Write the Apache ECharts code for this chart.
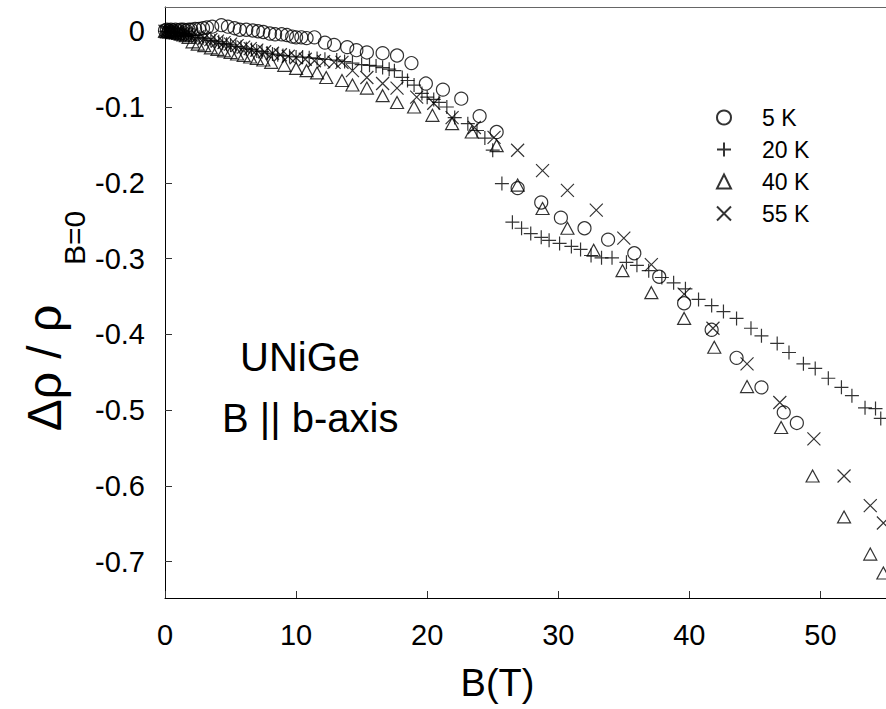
<!DOCTYPE html>
<html><head><meta charset="utf-8">
<script src="https://cdn.jsdelivr.net/npm/echarts@6/dist/echarts.min.js"></script>
<style>html,body{margin:0;padding:0;background:#fff}#c{width:886px;height:709px}</style>
</head><body><div id="c"></div>
<script>
const seriesNames = ['5 K', '20 K', '40 K', '55 K'];
const xTicks = [0, 10, 20, 30, 40, 50];
const yTicks = [0, -0.1, -0.2, -0.3, -0.4, -0.5, -0.6, -0.7];
const xTitle = 'B(T)';
const yTitleMain = 'Δρ / ρ';
const yTitleSub = 'B=0';
const noteLines = ['UNiGe', 'B || b-axis'];

const data5K = [[0,0.001],[0.15,0.002],[0.3,0.001],[0.45,0.002],[0.6,0.001],[0.8,0.002],[1.0,0.001],[1.2,0.002],[1.4,0.002],[1.6,0.001],[1.8,0.002],[2.0,0.002],[2.3,0.003],[2.6,0.003],[2.9,0.004],[3.2,0.005],[3.6,0.006],[4.3,0.008],[4.8,0.006],[5.3,0.004],[5.7,0.002],[6.2,0.002],[6.7,0.001],[7.1,0],[7.5,-0.001],[8.0,-0.003],[8.4,-0.004],[8.9,-0.004],[9.3,-0.005],[9.7,-0.007],[10.0,-0.008],[10.4,-0.008],[10.8,-0.009],[11.4,-0.008],[12.2,-0.015],[12.9,-0.018],[13.9,-0.021],[14.6,-0.025],[15.4,-0.028],[16.6,-0.029],[17.7,-0.032],[18.8,-0.042],[19.9,-0.069],[21.2,-0.077],[22.6,-0.089],[24.0,-0.112],[25.3,-0.133],[26.9,-0.207],[28.7,-0.226],[30.2,-0.246],[32.0,-0.260],[33.8,-0.275],[35.8,-0.293],[37.7,-0.324],[39.6,-0.359],[41.7,-0.394],[43.6,-0.431],[45.5,-0.470],[47.2,-0.503],[48.2,-0.517]];

const data20K = [[0,0],[0.15,-0.001],[0.3,0],[0.45,-0.001],[0.6,-0.001],[0.8,-0.002],[1.0,-0.002],[1.2,-0.003],[1.4,-0.003],[1.6,-0.004],[1.8,-0.005],[2.0,-0.005],[2.3,-0.006],[2.6,-0.008],[2.9,-0.009],[3.2,-0.010],[3.5,-0.012],[3.8,-0.013],[4.1,-0.014],[4.4,-0.016],[4.7,-0.017],[5.0,-0.018],[5.4,-0.020],[5.8,-0.021],[6.2,-0.023],[6.6,-0.024],[7.0,-0.026],[7.4,-0.027],[7.8,-0.029],[8.2,-0.030],[8.6,-0.031],[9.0,-0.032],[9.5,-0.033],[10.0,-0.034],[10.5,-0.034],[11.0,-0.035],[11.6,-0.036],[12.2,-0.037],[13.1,-0.038],[13.7,-0.040],[14.3,-0.042],[15.0,-0.044],[15.6,-0.045],[16.1,-0.046],[16.6,-0.048],[17.1,-0.050],[17.5,-0.052],[18.1,-0.061],[18.5,-0.065],[19.0,-0.071],[19.6,-0.082],[20.0,-0.087],[20.5,-0.090],[20.9,-0.094],[21.5,-0.100],[22.1,-0.114],[23.1,-0.122],[23.8,-0.131],[24.4,-0.141],[25.0,-0.157],[25.7,-0.201],[26.5,-0.252],[27.2,-0.260],[27.9,-0.267],[28.7,-0.272],[29.3,-0.276],[30.1,-0.280],[31.0,-0.284],[31.7,-0.288],[32.5,-0.296],[33.3,-0.299],[34.1,-0.299],[35.2,-0.305],[36.0,-0.309],[36.9,-0.316],[37.9,-0.325],[38.8,-0.332],[39.7,-0.340],[40.7,-0.354],[41.7,-0.362],[42.6,-0.370],[43.6,-0.379],[44.7,-0.392],[45.5,-0.402],[46.7,-0.412],[47.6,-0.424],[48.7,-0.439],[49.6,-0.445],[50.6,-0.458],[51.6,-0.470],[52.4,-0.481],[53.4,-0.497],[54.2,-0.498],[54.6,-0.511]];

const data40K = [[0,0],[0.15,-0.001],[0.3,0],[0.45,-0.001],[0.6,-0.002],[0.8,-0.002],[1.0,-0.003],[1.2,-0.004],[1.4,-0.005],[1.6,-0.006],[1.8,-0.008],[2.1,-0.014],[2.5,-0.017],[3.0,-0.019],[3.5,-0.022],[4.0,-0.024],[4.5,-0.026],[5.0,-0.028],[5.5,-0.030],[6.0,-0.032],[6.5,-0.034],[7.0,-0.036],[7.5,-0.038],[8.1,-0.041],[9.1,-0.045],[10.0,-0.049],[10.8,-0.052],[11.6,-0.055],[12.3,-0.061],[13.5,-0.065],[14.3,-0.071],[15.4,-0.075],[16.6,-0.085],[17.7,-0.094],[19.0,-0.100],[20.4,-0.111],[21.9,-0.122],[23.4,-0.133],[25.3,-0.151],[26.9,-0.203],[28.8,-0.234],[30.7,-0.260],[32.7,-0.289],[34.9,-0.316],[37.1,-0.345],[39.6,-0.379],[41.9,-0.417],[44.4,-0.469],[47.0,-0.523],[49.4,-0.587],[51.8,-0.641],[53.8,-0.690],[54.8,-0.715]];

const data55K = [[0,0],[0.15,0],[0.3,-0.001],[0.45,0],[0.6,-0.001],[0.8,-0.002],[1.0,-0.002],[1.25,-0.003],[1.5,-0.003],[1.75,-0.004],[2.0,-0.005],[2.5,-0.007],[3.0,-0.009],[3.5,-0.011],[4.0,-0.013],[4.5,-0.015],[5.0,-0.017],[5.5,-0.019],[6.0,-0.021],[6.5,-0.023],[7.0,-0.025],[7.6,-0.027],[8.2,-0.029],[8.8,-0.031],[9.4,-0.033],[10.0,-0.035],[10.7,-0.037],[11.4,-0.039],[12.1,-0.040],[12.9,-0.041],[13.5,-0.041],[14.3,-0.052],[15.4,-0.061],[16.6,-0.069],[17.7,-0.075],[19.2,-0.087],[20.5,-0.095],[21.9,-0.114],[23.6,-0.127],[25.1,-0.140],[26.9,-0.157],[28.8,-0.184],[30.7,-0.210],[32.9,-0.236],[35.0,-0.273],[37.1,-0.308],[39.6,-0.347],[41.8,-0.392],[44.4,-0.439],[46.9,-0.490],[49.5,-0.538],[51.8,-0.587],[53.8,-0.626],[54.8,-0.649]];

const FONT = '"Liberation Sans", Arial, Helvetica, sans-serif';
const chart = echarts.init(document.getElementById('c'), null, {renderer: 'svg'});
const mk = {color: 'rgba(0,0,0,0)', borderColor: '#000', borderWidth: 1.2};
const symbols = ['circle', 'path://M0,-1L0,1M-1,0L1,0', 'triangle', 'path://M-1,-1L1,1M-1,1L1,-1'];
const sizes = [13, 14, [13, 12], 13];
const allData = [data5K, data20K, data40K, data55K];

const option = {
  animation: false,
  backgroundColor: '#fff',
  textStyle: {fontFamily: FONT},
  grid: {left: 165, right: 0, top: 7, bottom: 111},
  legend: {
    orient: 'vertical', left: 711, top: 101, itemGap: 9,
    itemWidth: 14, itemHeight: 14,
    textStyle: {fontSize: 23, color: '#000', fontFamily: FONT, padding: [0, 0, 0, 26]},
    data: seriesNames
  },
  xAxis: [{
    type: 'value', min: 0, max: 55,
    axisLine: {show: true, onZero: false, lineStyle: {color: '#000', width: 1}},
    axisTick: {show: true, inside: true, length: 7, customValues: xTicks, lineStyle: {color: '#333'}},
    axisLabel: {customValues: xTicks, fontSize: 29, color: '#000', margin: 22, fontFamily: FONT},
    splitLine: {show: false},
    name: xTitle, nameLocation: 'middle', nameGap: 66,
    nameTextStyle: {fontSize: 38, color: '#000', fontFamily: FONT, padding: [0, 56, 0, 0]}
  }, {
    type: 'value', position: 'top', min: 0, max: 55,
    axisLine: {show: true, onZero: false, lineStyle: {color: '#666', width: 1}},
    axisTick: {show: false}, axisLabel: {show: false}, splitLine: {show: false}
  }],
  yAxis: {
    type: 'value', min: -0.748, max: 0.032,
    axisLine: {show: true, onZero: false, lineStyle: {color: '#000', width: 1}},
    axisTick: {show: true, inside: true, length: 7, customValues: yTicks, lineStyle: {color: '#333'}},
    axisLabel: {customValues: yTicks, fontSize: 29, color: '#000', margin: 20, fontFamily: FONT,
      formatter: v => (Math.abs(v) < 1e-9 ? '0' : v.toFixed(1))},
    splitLine: {show: false}
  },
  graphic: [
    {type: 'text', x: 44, y: 368, rotation: Math.PI / 2,
     style: {text: yTitleMain, font: '48px ' + FONT, fill: '#000', textAlign: 'center', textVerticalAlign: 'middle'}},
    {type: 'text', x: 74, y: 238, rotation: Math.PI / 2,
     style: {text: yTitleSub, font: '30px ' + FONT, fill: '#000', textAlign: 'center', textVerticalAlign: 'middle'}},
    {type: 'text', x: 240, y: 357,
     style: {text: noteLines[0], font: '40px ' + FONT, fill: '#000', textAlign: 'left', textVerticalAlign: 'middle'}},
    {type: 'text', x: 222, y: 418,
     style: {text: noteLines[1], font: '40px ' + FONT, fill: '#000', textAlign: 'left', textVerticalAlign: 'middle'}}
  ],
  series: seriesNames.map((n, i) => ({
    name: n, type: 'scatter', data: allData[i],
    symbol: symbols[i], symbolSize: sizes[i],
    itemStyle: mk, emphasis: {disabled: true}, silent: true
  }))
};
chart.setOption(option);
</script></body></html>
